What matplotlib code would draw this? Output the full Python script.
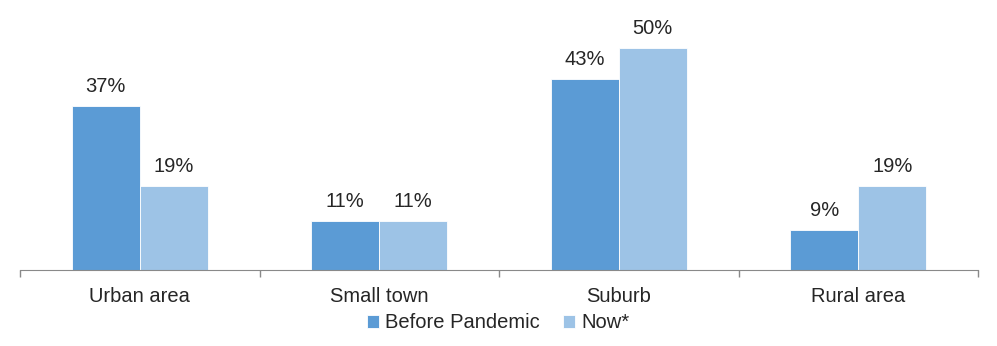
import numpy as np
import matplotlib.pyplot as plt

plt.rcParams['font.family'] = ['Liberation Sans', 'DejaVu Sans']

categories = ['Urban area', 'Small town', 'Suburb', 'Rural area']
before = [37, 11, 43, 9]
now = [19, 11, 50, 19]

fig = plt.figure(figsize=(9.97, 3.46), dpi=100)
ax = fig.add_axes([20 / 997, 76 / 346, 958 / 997, 265 / 346])

x = np.arange(len(categories))
w = 0.284
b1 = ax.bar(x - w / 2, before, w, color='#5B9BD5', edgecolor='white', linewidth=0.6, label='Before Pandemic')
b2 = ax.bar(x + w / 2, now, w, color='#9DC3E6', edgecolor='white', linewidth=0.6, label='Now*')

# percentage labels above each bar
for bars, vals in ((b1, before), (b2, now)):
    for r, v in zip(bars, vals):
        ax.text(r.get_x() + r.get_width() / 2, v + 2.2, f'{v}%', ha='center', va='bottom',
                fontsize=14.5, color='#262626')

ax.set_xlim(-0.5, len(categories) - 0.5)
ax.set_ylim(0, 59.7)
ax.set_yticks([])
ax.set_xticks(x)
ax.set_xticklabels(categories, fontsize=14.5, color='#262626')
ax.tick_params(axis='x', which='major', length=0, pad=12)
ax.set_xticks(np.arange(-0.5, len(categories)), minor=True)
ax.tick_params(axis='x', which='minor', length=5, color='#898989', width=1)
for s in ('top', 'right', 'left'):
    ax.spines[s].set_visible(False)
ax.spines['bottom'].set_color('#898989')

fig.legend(loc='center', bbox_to_anchor=(0.5, 23 / 346), ncol=2, frameon=False,
           fontsize=14.5, handlelength=0.6, handleheight=0.6, handletextpad=0.3,
           columnspacing=1.15, labelcolor='#262626')

fig.savefig('out.png', dpi=100)
